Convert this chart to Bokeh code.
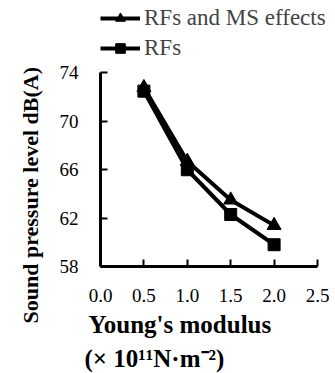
from bokeh.plotting import figure
from bokeh.models import Range1d, FixedTicker, Legend, LegendItem, NumeralTickFormatter, Title
from bokeh.embed import file_html
from bokeh.resources import INLINE

modulus = [0.5, 1.0, 1.5, 2.0]
spl_rfs_ms = [72.8, 66.7, 63.5, 61.4]
spl_rfs = [72.5, 66.0, 62.3, 59.8]
x_ticks = [0.0, 0.5, 1.0, 1.5, 2.0, 2.5]
y_ticks = [58, 62, 66, 70, 74]

FONT = "Liberation Serif"
Y_LO, Y_HI = 58, 74
X_LO, X_HI = 0.0, 2.5
# frame is larger than the axes so that the legend fits inside it
y_top = Y_LO + (Y_HI - Y_LO) * 263 / 195
x_right = X_LO + (X_HI - X_LO) * 235 / 217

p = figure(width=335, height=373, output_backend="svg", toolbar_location=None,
           x_range=Range1d(X_LO, x_right), y_range=Range1d(Y_LO, y_top),
           min_border_left=100, min_border_right=0, min_border_top=5, min_border_bottom=105)
p.outline_line_color = None
p.grid.visible = False
p.background_fill_color = "white"
p.border_fill_color = "white"

l1 = p.line(modulus, spl_rfs_ms, line_color="black", line_width=4)
m1 = p.scatter(modulus, spl_rfs_ms, marker="triangle", size=14, color="black")
l2 = p.line(modulus, spl_rfs, line_color="black", line_width=4)
m2 = p.scatter(modulus, spl_rfs, marker="square", size=12, color="black")

for ax in (p.xaxis[0], p.yaxis[0]):
    ax.axis_line_width = 3
    ax.axis_line_color = "black"
    ax.major_tick_in = 7
    ax.major_tick_out = 0
    ax.major_tick_line_width = 2
    ax.minor_tick_line_color = None
    ax.major_label_text_font = FONT
    ax.major_label_text_font_size = "19px"
    ax.major_label_text_color = "black"

p.xaxis.ticker = FixedTicker(ticks=x_ticks)
p.xaxis.formatter = NumeralTickFormatter(format="0.0")
p.xaxis.bounds = (X_LO, X_HI)
p.xaxis.major_label_standoff = 22
p.yaxis.ticker = FixedTicker(ticks=y_ticks)
p.yaxis.bounds = (Y_LO, Y_HI)
p.yaxis.major_label_standoff = 22

title_style = dict(text_font=FONT, text_font_style="bold", text_color="black")
ylab = Title(text="Sound pressure level dB(A)", align="left", offset=-57, standoff=27,
             text_font_size="22px", **title_style)
p.add_layout(ylab, "left")
xlab1 = Title(text="Young's modulus", align="left", offset=-12, standoff=8,
              text_font_size="25px", **title_style)
xlab2 = Title(text="(× 10¹¹N·m⁻²)", align="left", offset=-16, standoff=3,
              text_font_size="25px", **title_style)
p.add_layout(xlab1, "below")
p.add_layout(xlab2, "below")

legend = Legend(items=[LegendItem(label="RFs and MS effects", renderers=[l1, m1]),
                       LegendItem(label="RFs", renderers=[l2, m2])],
                location=(0, 205), orientation="vertical",
                glyph_width=40, glyph_height=24, label_height=24, spacing=4,
                padding=0, margin=0, label_standoff=4,
                label_text_font=FONT, label_text_font_size="23px",
                border_line_color=None, background_fill_alpha=0)
p.add_layout(legend)

open("out.html", "w").write(file_html(p, INLINE))
